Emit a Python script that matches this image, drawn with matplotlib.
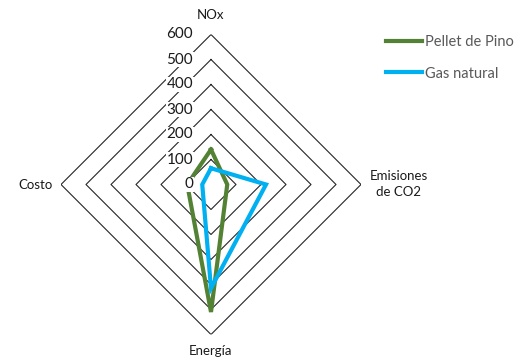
import numpy as np
import matplotlib.pyplot as plt

# Datos del radar
categorias = ["NOx", "Emisiones\nde CO2", "Energía", "Costo"]
pellet_pino = [140, 65, 510, 95]
gas_natural = [65, 220, 415, 35]
niveles = [100, 200, 300, 400, 500, 600]
etiquetas_nivel = ["0", "100", "200", "300", "400", "500", "600"]

plt.rcParams["font.family"] = ["Lato", "DejaVu Sans"]

W, H = 519, 357
fig = plt.figure(figsize=(W / 100, H / 100), dpi=100)

# centro del radar en (211, 184.5) px, radio 150 px
cx, cy, rad = 211, 184.5, 150
ax = fig.add_axes([(cx - rad) / W, (H - cy - rad) / H, 2 * rad / W, 2 * rad / H],
                  projection="polar")
ax.set_theta_offset(np.pi / 2)
ax.set_theta_direction(-1)
ax.set_ylim(0, 600)
ax.grid(False)
ax.spines["polar"].set_visible(False)
ax.set_xticks([])
ax.set_yticks([])
ax.patch.set_alpha(0)

angulos = np.arange(len(categorias)) * 2 * np.pi / len(categorias)
ang_cerrado = np.append(angulos, angulos[0])

# anillos en forma de rombo
for n in niveles:
    ax.plot(ang_cerrado, [n] * len(ang_cerrado), color="#262626", lw=0.8, zorder=1)


def cerrar(vals):
    return list(vals) + [vals[0]]


ax.plot(ang_cerrado, cerrar(pellet_pino), color="#548235", lw=3, zorder=3,
        label="Pellet de Pino", solid_joinstyle="miter")
ax.plot(ang_cerrado, cerrar(gas_natural), color="#00B0F0", lw=3, zorder=3,
        label="Gas natural", solid_joinstyle="miter")

# etiquetas del eje radial
for i, txt in enumerate(etiquetas_nivel):
    ax.annotate(txt, xy=(0, i * 100), xytext=(-13, 0), textcoords="offset points",
                ha="right", va="center", fontsize=11, color="#1a1a1a", zorder=5,
                bbox=dict(boxstyle="square,pad=0.05", fc="white", ec="none"))

# nombres de las categorías
ax.annotate(categorias[0], xy=(angulos[0], 600), xytext=(0, 14), textcoords="offset points",
            ha="center", va="center", fontsize=9.5, color="#1a1a1a")
ax.annotate(categorias[1], xy=(angulos[1], 600), xytext=(6, 0), textcoords="offset points",
            ha="left", va="center", fontsize=9.5, color="#1a1a1a", multialignment="center",
            linespacing=1.4)
ax.annotate(categorias[2], xy=(angulos[2], 600), xytext=(0, -12), textcoords="offset points",
            ha="center", va="center", fontsize=9.5, color="#1a1a1a")
ax.annotate(categorias[3], xy=(angulos[3], 600), xytext=(-6, 0), textcoords="offset points",
            ha="right", va="center", fontsize=9.5, color="#1a1a1a")

leg = fig.legend(loc="upper left", bbox_to_anchor=(386 / W, 1 - 35 / H), frameon=False,
                 fontsize=10.5, handlelength=2.45, handletextpad=0.25, labelspacing=1.2,
                 borderpad=0, borderaxespad=0)
for t in leg.get_texts():
    t.set_color("#595959")

fig.savefig("out.png", dpi=100)
